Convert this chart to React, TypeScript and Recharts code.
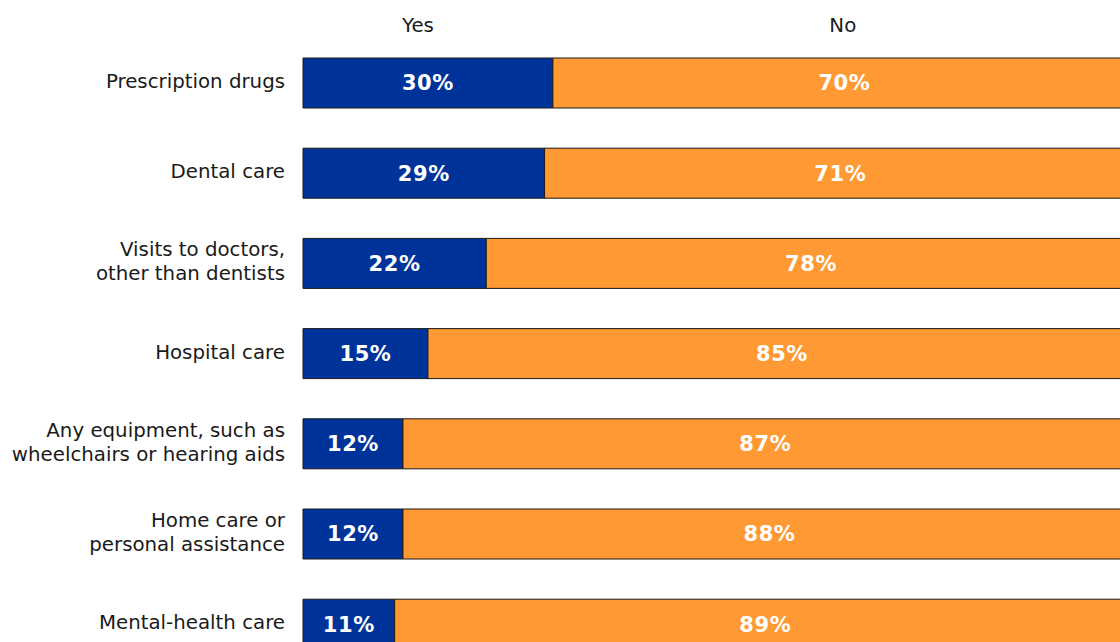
import React from 'react';
import { BarChart, Bar, XAxis, YAxis, LabelList } from 'recharts';

const categories = [
  'Prescription drugs',
  'Dental care',
  'Visits to doctors,\nother than dentists',
  'Hospital care',
  'Any equipment, such as\nwheelchairs or hearing aids',
  'Home care or\npersonal assistance',
  'Mental-health care',
];
const yesValues = [30, 29, 22, 15, 12, 12, 11];
const noValues = [70, 71, 78, 85, 87, 88, 89];
const headerTicks = [13.8, 64.8];
const headerLabels = ['Yes', 'No'];

const data = categories.map((c, i) => ({ name: c, yes: yesValues[i], no: noValues[i] }));

const FONT = 'DejaVu Sans, Verdana, sans-serif';

const CategoryTick = (props: any) => {
  const { x, y, payload } = props;
  const lines = String(payload.value).split('\n');
  const lh = 24;
  const start = -((lines.length - 1) * lh) / 2 - 2;
  return (
    <g>
      {lines.map((l: string, i: number) => (
        <text key={i} x={x} y={y + start + i * lh} dy="0.35em" textAnchor="end" fontFamily={FONT} fontSize={19.8} fill="#1a1a1a">
          {l}
        </text>
      ))}
    </g>
  );
};

const HeaderTick = (props: any) => {
  const { x, payload } = props;
  const idx = headerTicks.indexOf(payload.value);
  return (
    <text x={x} y={25} dy="0.35em" textAnchor="middle" fontFamily={FONT} fontSize={19.8} fill="#1a1a1a">
      {headerLabels[idx] ?? ''}
    </text>
  );
};

export default function App() {
  return (
    <div style={{ position: 'absolute', left: 0, top: 0, width: 1120, height: 642, overflow: 'hidden', background: '#fff' }}>
      <BarChart
        width={1160}
        height={700}
        data={data}
        layout="vertical"
        barCategoryGap={0}
        margin={{ top: 8, right: 24, left: 0, bottom: 30.6 }}
      >
        <XAxis
          type="number"
          orientation="top"
          domain={[0, 100]}
          ticks={headerTicks}
          axisLine={false}
          tickLine={false}
          height={30}
          tick={<HeaderTick />}
        />
        <YAxis
          type="category"
          dataKey="name"
          width={303}
          axisLine={false}
          tickLine={false}
          tickMargin={12}
          tick={<CategoryTick />}
        />
        <Bar dataKey="yes" stackId="a" fill="#003399" stroke="#1a1a1a" strokeWidth={1} barSize={50} isAnimationActive={false}>
          <LabelList dataKey="yes" position="center" formatter={(v: any) => `${v}%`} fill="#fff" fontWeight="bold" fontSize={21} letterSpacing={0.6} fontFamily={FONT} />
        </Bar>
        <Bar dataKey="no" stackId="a" fill="#FF9933" stroke="#1a1a1a" strokeWidth={1} barSize={50} isAnimationActive={false}>
          <LabelList dataKey="no" position="center" formatter={(v: any) => `${v}%`} fill="#fff" fontWeight="bold" fontSize={21} letterSpacing={0.6} fontFamily={FONT} />
        </Bar>
      </BarChart>
    </div>
  );
}
